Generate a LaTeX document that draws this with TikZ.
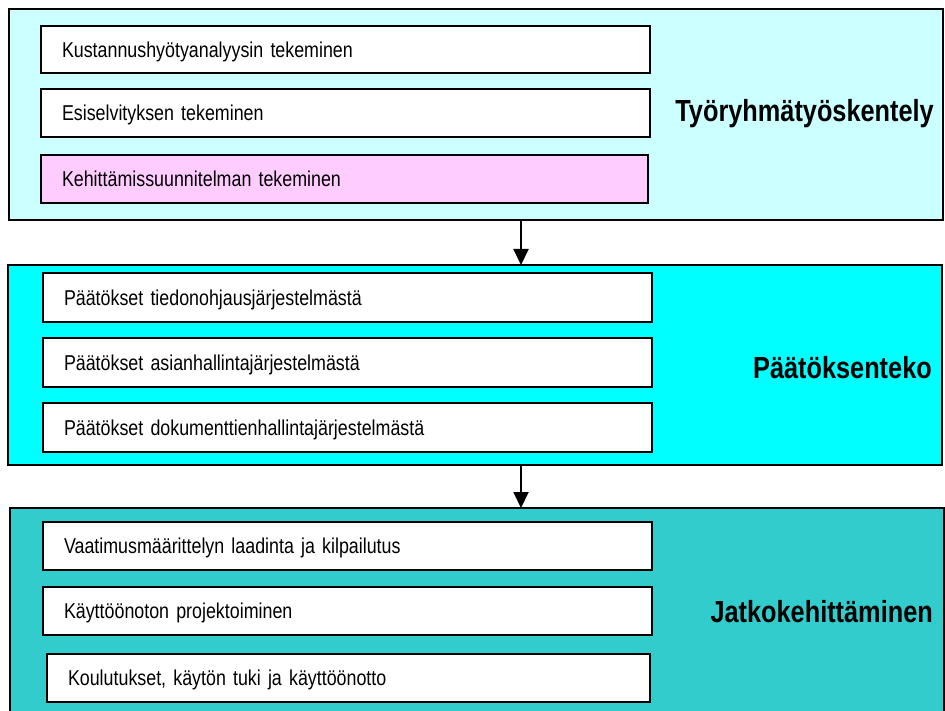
\documentclass[tikz,border=0pt]{standalone}
\usepackage{fontspec}
\setmainfont{Liberation Sans}[FakeStretch=0.83]
\usetikzlibrary{arrows.meta}
\definecolor{paleaqua}{HTML}{CCFFFF}
\definecolor{aqua}{HTML}{00FFFF}
\definecolor{teal3}{HTML}{33CCCC}
\definecolor{palepink}{HTML}{FFCCFF}
% task text: condensed face with tighter word spacing
\newcommand{\taskfont}{\fontsize{21.5}{25}\selectfont\setlength{\spaceskip}{4.6pt}}
\begin{document}
\begin{tikzpicture}[x=1pt,y=-1pt,
  panel/.style={draw=black, line width=1.6pt, anchor=north west,
    inner sep=0pt, outer sep=0pt, minimum width=934pt},
  taskbox/.style={draw=black, line width=1.6pt, fill=white, anchor=north west,
    inner xsep=21pt, inner ysep=0pt, outer sep=0pt, align=left,
    text width=#1, minimum height=48pt, text height=15.5pt, text depth=0pt,
    font=\taskfont},
  taskbox/.default=567pt,
  phase/.style={anchor=base east, inner sep=0pt,
    font=\fontsize{30.5}{36}\selectfont\bfseries},
  flow/.style={line width=2pt, -{Triangle[length=16pt,width=15pt]}}]
\useasboundingbox (0,0) rectangle (945,711);

% Phase panels
\node[panel, fill=paleaqua, minimum height=211pt] (p1) at (9,9) {};
\node[panel, fill=aqua, minimum height=200pt] (p2) at (8,265) {};
\begin{scope}
  \clip (0,0) rectangle (945,711);
  \node[panel, fill=teal3, minimum height=215pt] (p3) at (10,508) {};
\end{scope}

% Tasks of the working group
\node[taskbox, minimum height=47pt] (t11) at (41,26) {Kustannushyötyanalyysin tekeminen};
\node[taskbox] (t12) at (41,89) {Esiselvityksen tekeminen};
\node[taskbox, fill=palepink, text width=565pt] (t13) at (41,155) {Kehittämissuunnitelman tekeminen};

% Decisions
\node[taskbox, minimum height=49pt] (t21) at (43,273) {Päätökset tiedonohjausjärjestelmästä};
\node[taskbox, minimum height=49pt] (t22) at (43,338) {Päätökset asianhallintajärjestelmästä};
\node[taskbox, minimum height=49pt] (t23) at (43,403) {Päätökset dokumenttienhallintajärjestelmästä};

% Further development
\node[taskbox] (t31) at (43,522) {Vaatimusmäärittelyn laadinta ja kilpailutus};
\node[taskbox] (t32) at (43,587) {Käyttöönoton projektoiminen};
\node[taskbox, text width=561pt] (t33) at (47,654) {Koulutukset, käytön tuki ja käyttöönotto};

% Phase titles
\node[phase] (l1) at (934,122) {Työryhmätyöskentely};
\node[phase] (l2) at (932,378) {Päätöksenteko};
\node[phase] (l3) at (933,622) {Jatkokehittäminen};

% Flow between phases
\coordinate (ax) at (521,0);
\draw[flow] (p1.south -| ax) -- (p2.north -| ax);
\draw[flow] (p2.south -| ax) -- (p3.north -| ax);
\end{tikzpicture}
\end{document}
